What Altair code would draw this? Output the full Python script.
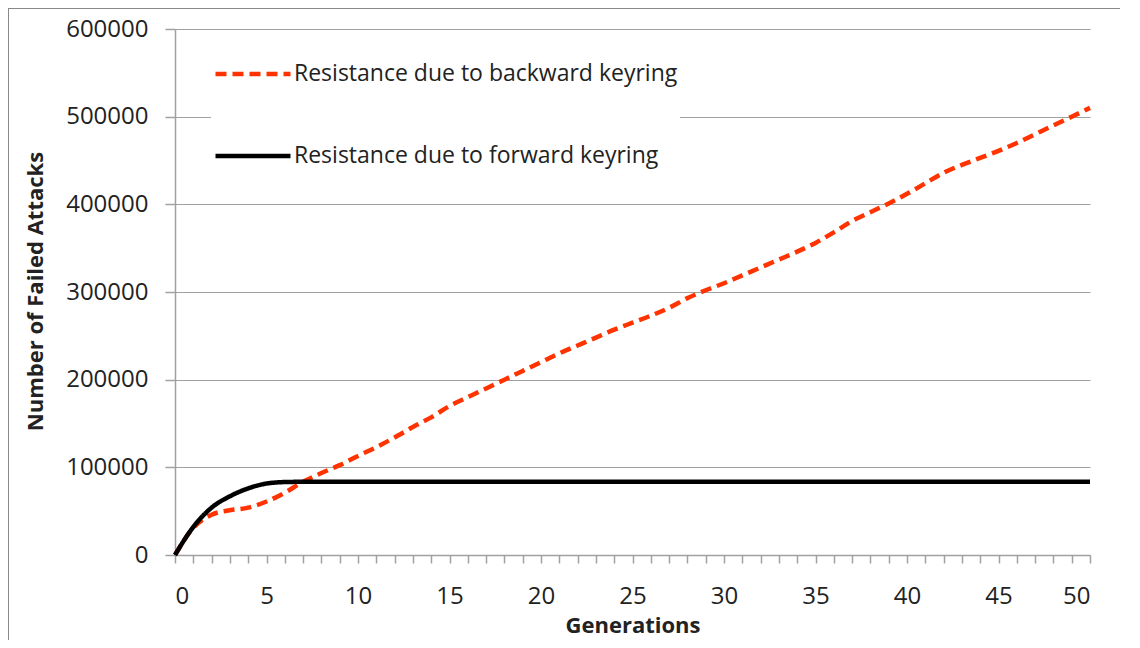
import altair as alt
import pandas as pd

series_names = ["Resistance due to backward keyring", "Resistance due to forward keyring"]
generations = list(range(51))
backward = [0, 31000, 46000, 51000, 54000, 61000, 71000, 83500, 93500, 102500,
            113000, 123000, 134000, 146000, 157000, 170000, 180000, 190000, 200000, 210000,
            220000, 230000, 239000, 248000, 257000, 265000, 273000, 282000, 293000, 302000,
            310000, 319000, 328000, 337000, 346000, 356000, 368000, 381000, 391000, 401000,
            412000, 424000, 436000, 445000, 453000, 461000, 470000, 480000, 490000, 500000,
            510000]
forward = [0, 32000, 54000, 67000, 76000, 81500, 83200, 83500, 83500, 83500,
           83500, 83500, 83500, 83500, 83500, 83500, 83500, 83500, 83500, 83500,
           83500, 83500, 83500, 83500, 83500, 83500, 83500, 83500, 83500, 83500,
           83500, 83500, 83500, 83500, 83500, 83500, 83500, 83500, 83500, 83500,
           83500, 83500, 83500, 83500, 83500, 83500, 83500, 83500, 83500, 83500,
           83500]
y_ticks = [0, 100000, 200000, 300000, 400000, 500000, 600000]
x_ticks = list(range(51))

df = pd.concat([
    pd.DataFrame({"gen": generations, "value": backward, "series": series_names[0]}),
    pd.DataFrame({"gen": generations, "value": forward, "series": series_names[1]}),
])

FONT = "Open Sans"
GRAY = "#A0A0A0"

lines = alt.Chart(df).mark_line(strokeWidth=4.5, interpolate="monotone").encode(
    x=alt.X("gen:Q", scale=alt.Scale(domain=[0, 50], nice=False),
            axis=alt.Axis(values=x_ticks, title="Generations", grid=False,
                          labelExpr="datum.value % 5 == 0 ? datum.label : ''",
                          tickSize=8, labelPadding=21, titlePadding=7)),
    y=alt.Y("value:Q", scale=alt.Scale(domain=[0, 600000], nice=False),
            axis=alt.Axis(values=y_ticks, format="d", title="Number of Failed Attacks",
                          tickSize=10, labelPadding=17, titleX=-140, titleY=262,
                          titleAlign="center", titleBaseline="middle")),
    color=alt.Color("series:N", scale=alt.Scale(domain=series_names, range=["#FF3300", "#000000"]),
                    legend=alt.Legend(title=None)),
    strokeDash=alt.StrokeDash("series:N", scale=alt.Scale(domain=series_names, range=[[11, 6], [1, 0]]),
                              legend=alt.Legend(title=None)),
)

top_border = alt.Chart(df).mark_rule(color="#888888", strokeWidth=2.5, clip=False).encode(
    x=alt.value(-168), x2=alt.value(1000), y=alt.value(-22)
)
left_border = alt.Chart(df).mark_rule(color="#888888", strokeWidth=2.5, clip=False).encode(
    x=alt.value(-168), y=alt.value(-22), y2=alt.value(700)
)

chart = alt.layer(lines, top_border, left_border).properties(
    width=915, height=526,
    autosize=alt.AutoSizeParams(type="none"),
    padding={"left": 167, "top": 21, "right": 30, "bottom": 85},
).configure_view(stroke=None).configure_axis(
    labelFont=FONT, labelFontSize=24, labelColor="#222222",
    titleFont=FONT, titleFontSize=22, titleFontWeight="bold", titleColor="#222222",
    domainColor=GRAY, domainWidth=1.5, tickColor=GRAY, tickWidth=1.5,
    gridColor=GRAY, gridWidth=1.2,
).configure_legend(
    orient="none", legendX=36, legendY=3, fillColor="white", padding=2,
    symbolType="stroke", symbolSize=5625, symbolStrokeWidth=4.5,
    labelFont=FONT, labelFontSize=23, labelColor="#222222", labelOffset=1,
    rowPadding=30, labelLimit=800,
)

chart.save("out.html", embed_options={"renderer": "svg", "actions": False})
